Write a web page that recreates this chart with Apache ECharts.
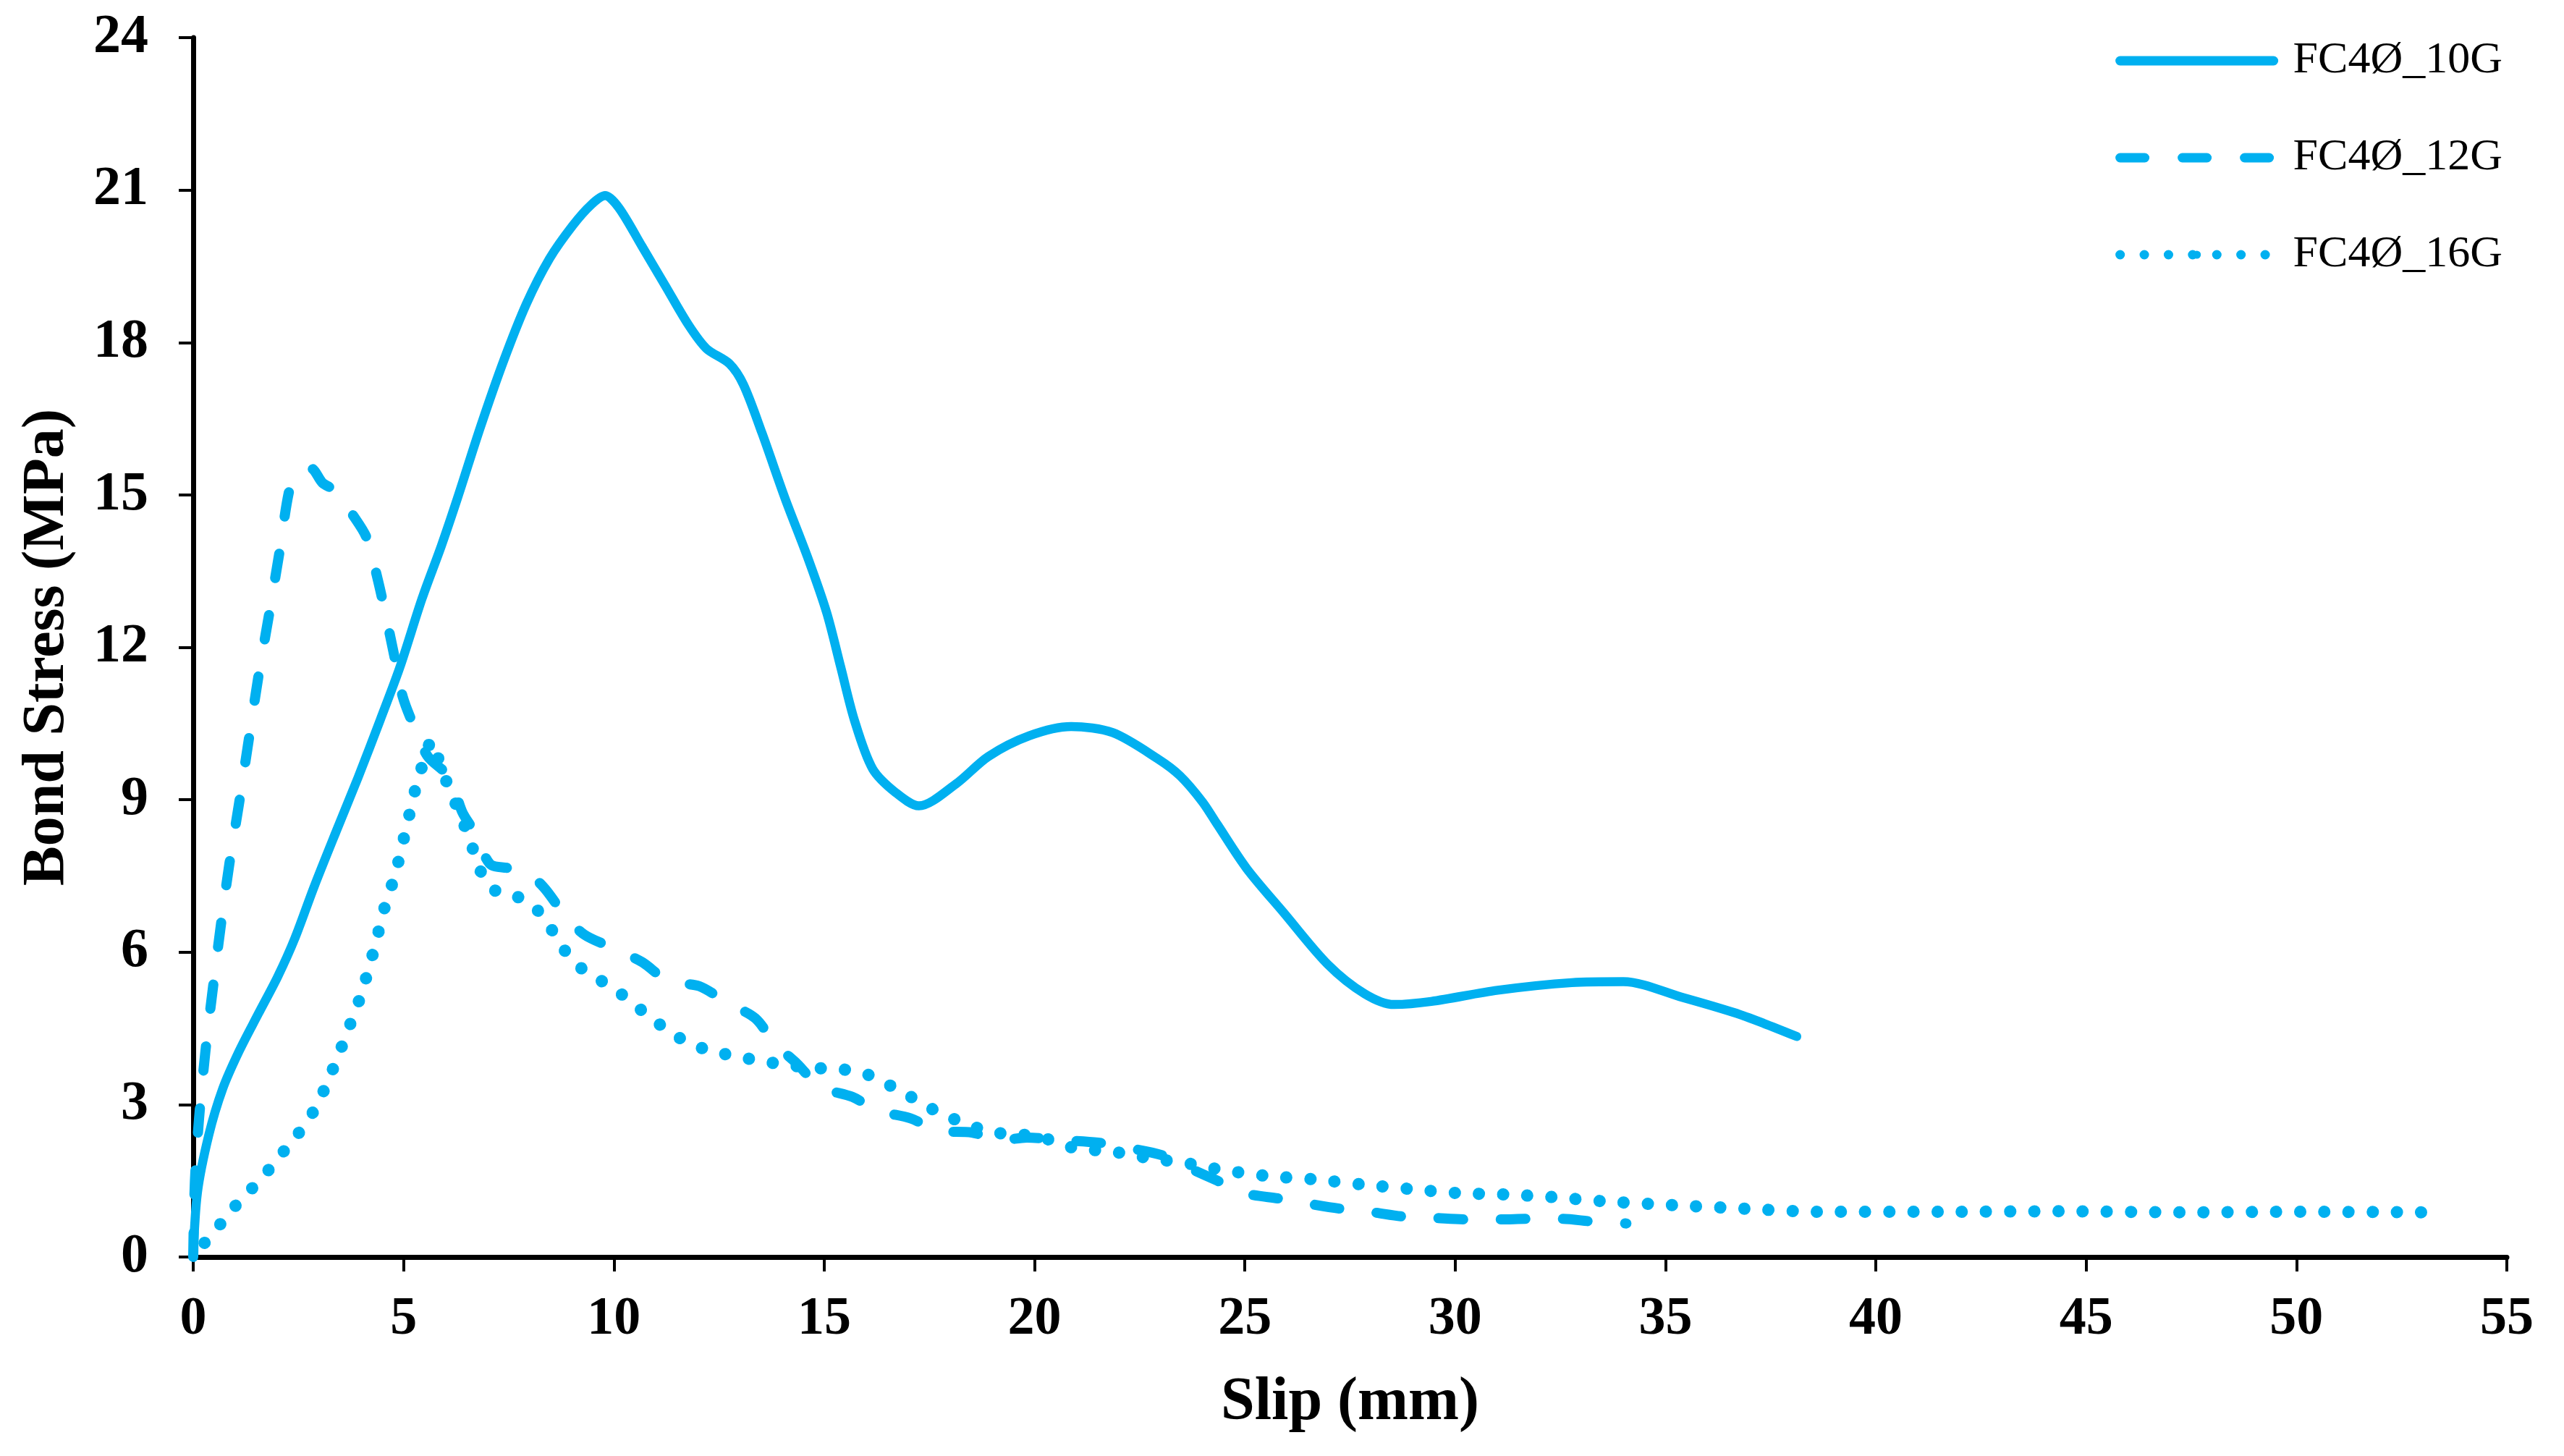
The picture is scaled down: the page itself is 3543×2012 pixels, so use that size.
<!DOCTYPE html>
<html>
<head>
<meta charset="utf-8">
<script src="https://cdn.jsdelivr.net/npm/echarts@6/dist/echarts.min.js"></script>
<style>
html,body{margin:0;padding:0;background:#fff;}
#chart{width:3543px;height:2012px;}
</style>
</head>
<body>
<div id="chart"></div>
<script>
// ---- Data ----
const seriesNames = ['FC4Ø_10G', 'FC4Ø_12G', 'FC4Ø_16G'];

const slip10 = [0,0.10,0.37,0.70,1.09,1.55,2.01,2.41,2.87,3.39,3.92,4.45,4.91,5.44,5.90,6.28,6.83,7.38,7.92,8.47,9.02,9.46,9.79,10.12,10.67,11.22,11.77,12.20,12.75,13.08,13.52,14.07,14.62,15.06,15.39,15.72,16.15,16.70,17.25,18.13,18.90,19.88,20.87,21.86,22.94,23.46,23.99,24.34,25.04,25.92,26.97,27.85,28.55,29.43,31.01,32.77,34.00,35.40,36.63,37.33,38.12];
const stress10 = [0,1.27,2.40,3.31,4.05,4.79,5.52,6.26,7.28,8.36,9.44,10.58,11.60,12.96,14.0,14.93,16.34,17.64,18.76,19.65,20.30,20.71,20.89,20.65,19.89,19.12,18.35,17.88,17.58,17.17,16.22,14.93,13.74,12.68,11.62,10.56,9.61,9.14,8.88,9.31,9.85,10.26,10.44,10.32,9.80,9.47,8.96,8.52,7.65,6.78,5.76,5.18,4.97,5.03,5.25,5.40,5.42,5.11,4.81,4.60,4.34];

const slip12 = [0,0.04,0.14,0.29,0.46,0.66,0.86,1.09,1.32,1.55,1.81,2.05,2.31,2.54,2.80,3.07,3.39,3.79,4.12,4.38,4.58,4.78,4.98,5.24,5.57,6.09,6.40,6.69,7.05,7.45,7.84,8.33,8.83,9.29,9.98,10.68,11.29,12.03,12.70,13.36,13.83,14.36,14.90,15.67,16.28,17.05,17.74,18.51,19.20,19.82,20.66,21.51,22.20,23.04,23.73,24.35,25.04,25.81,26.50,27.27,28.04,28.73,29.50,30.31,31.08,31.71,32.54,33.24,34.07];
const stress12 = [0,1.49,2.74,4.05,5.24,6.55,7.74,8.93,10.18,11.43,12.68,13.87,15.18,15.46,15.52,15.24,15.07,14.61,14.16,13.36,12.62,11.83,11.03,10.46,9.86,9.44,8.75,8.36,7.74,7.66,7.62,7.28,6.73,6.35,6.08,5.80,5.43,5.33,5.00,4.70,4.20,3.80,3.35,3.15,2.88,2.73,2.48,2.45,2.30,2.35,2.30,2.25,2.15,2.00,1.73,1.50,1.25,1.15,1.05,0.95,0.88,0.80,0.77,0.74,0.74,0.75,0.75,0.70,0.66];

const slip16 = [0,0.37,0.73,1.09,1.49,1.88,2.24,2.60,2.91,3.15,3.38,3.59,3.79,3.99,4.15,4.30,4.45,4.59,4.76,4.91,5.04,5.17,5.30,5.47,5.67,5.85,6.06,6.29,6.56,6.88,7.25,7.80,8.25,8.57,8.88,9.29,9.79,10.25,10.71,11.15,11.63,12.17,12.72,13.29,13.86,14.42,14.98,15.56,16.10,16.62,17.13,17.62,18.16,18.68,19.23,19.82,20.35,20.92,21.48,22.04,22.63,23.73,24.35,25.47,26.61,27.76,28.91,30.03,31.19,32.30,33.47,35.20,36.93,38.64,41.51,44.39,47.27,50.12,53.05];
const stress16 = [0,0.38,0.73,1.09,1.43,1.80,2.17,2.54,2.94,3.36,3.82,4.27,4.71,5.16,5.61,6.06,6.55,7.00,7.42,7.89,8.36,8.82,9.27,9.73,10.16,9.75,9.27,8.82,8.25,7.51,7.17,7.06,6.77,6.38,5.98,5.64,5.39,5.13,4.82,4.54,4.28,4.09,3.98,3.89,3.81,3.75,3.71,3.68,3.57,3.35,3.12,2.89,2.69,2.53,2.43,2.40,2.31,2.15,2.10,2.05,1.96,1.83,1.73,1.60,1.53,1.43,1.34,1.26,1.23,1.18,1.10,1.02,0.95,0.89,0.89,0.90,0.88,0.89,0.88];

const xTicks = {min: 0, max: 55, interval: 5};
const yTicks = {min: 0, max: 24, interval: 3};

function pairs(xs, ys) { return xs.map((x, i) => [x, ys[i]]); }

const COLOR = '#00B0F0';
const FONT = '"Liberation Serif", "Times New Roman", serif';

const chart = echarts.init(document.getElementById('chart'), null, {renderer: 'canvas'});
chart.setOption({
  backgroundColor: '#ffffff',
  animation: false,
  grid: {left: 267, right: 79, top: 52, bottom: 275, containLabel: false},
  legend: {
    orient: 'vertical',
    right: 80,
    top: 44,
    itemWidth: 212,
    itemHeight: 14,
    itemGap: 64,
    lineStyle: {width: 13, dashOffset: 0},
    textStyle: {fontFamily: FONT, fontSize: 62, color: '#000', lineHeight: 70, padding: [0, 0, 0, 22]},
    data: seriesNames
  },
  xAxis: {
    type: 'value',
    min: xTicks.min, max: xTicks.max, interval: xTicks.interval,
    name: 'Slip (mm)',
    nameLocation: 'middle',
    nameGap: 160,
    nameTextStyle: {fontFamily: FONT, fontSize: 84, fontWeight: 'bold', color: '#000'},
    axisLine: {show: true, onZero: false, lineStyle: {color: '#000', width: 7}},
    axisTick: {show: true, length: 20, lineStyle: {color: '#000', width: 4}},
    axisLabel: {fontFamily: FONT, fontSize: 74, fontWeight: 'bold', color: '#000', margin: 50},
    splitLine: {show: false}
  },
  yAxis: {
    type: 'value',
    min: yTicks.min, max: yTicks.max, interval: yTicks.interval,
    name: 'Bond Stress (MPa)',
    nameLocation: 'middle',
    nameGap: 160,
    nameTextStyle: {fontFamily: FONT, fontSize: 82, fontWeight: 'bold', color: '#000'},
    axisLine: {show: true, onZero: false, lineStyle: {color: '#000', width: 7}},
    axisTick: {show: true, length: 20, lineStyle: {color: '#000', width: 4}},
    axisLabel: {fontFamily: FONT, fontSize: 76, fontWeight: 'bold', color: '#000', margin: 62},
    splitLine: {show: false}
  },
  series: [
    {
      name: seriesNames[0], type: 'line', data: pairs(slip10, stress10),
      smooth: 0.3, symbol: 'none', showSymbol: false,
      lineStyle: {color: COLOR, width: 12.5, type: 'solid', cap: 'round', join: 'round'},
      itemStyle: {color: COLOR}
    },
    {
      name: seriesNames[1], type: 'line', data: pairs(slip12, stress12),
      smooth: 0.3, symbol: 'none', showSymbol: false,
      lineStyle: {color: COLOR, width: 14, type: [34, 52], cap: 'round', join: 'round'},
      itemStyle: {color: COLOR}
    },
    {
      name: seriesNames[2], type: 'line', data: pairs(slip16, stress16),
      smooth: 0.3, symbol: 'none', showSymbol: false,
      lineStyle: {color: COLOR, width: 17, type: [0.1, 33.3], dashOffset: 8.4, cap: 'round', join: 'round'},
      itemStyle: {color: COLOR}
    }
  ]
});
</script>
</body>
</html>
